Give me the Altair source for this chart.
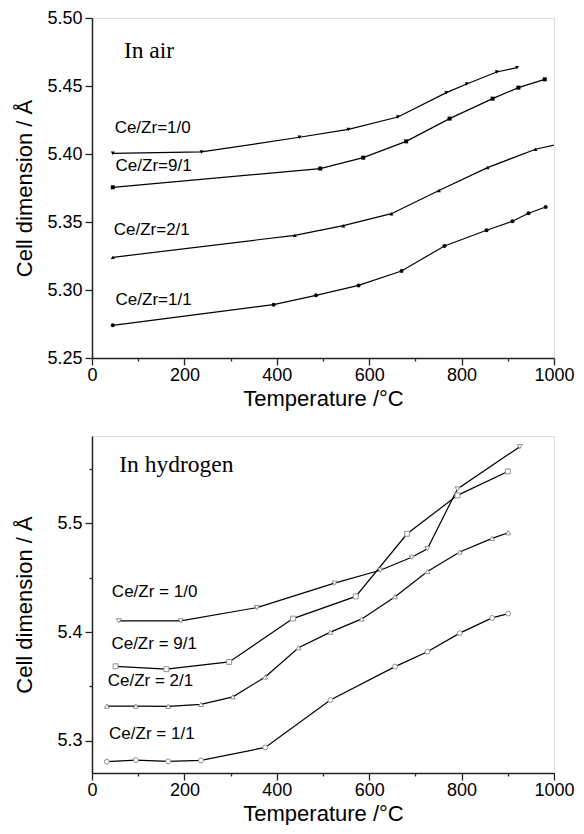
import altair as alt
import pandas as pd

# ---------------- In air (top panel) ----------------
air_names = ["Ce/Zr=1/0", "Ce/Zr=9/1", "Ce/Zr=2/1", "Ce/Zr=1/1"]
air_t_10 = [45, 237, 449, 555, 662, 767, 811, 876, 920]
air_v_10 = [5.4005, 5.4015, 5.4123, 5.4181, 5.4272, 5.4451, 5.4515, 5.4603, 5.4635]
air_t_91 = [45, 494, 587, 680, 774, 867, 923, 980]
air_v_91 = [5.3755, 5.3893, 5.3973, 5.4093, 5.4260, 5.4407, 5.4488, 5.4549]
air_t_21 = [45, 439, 544, 648, 751, 856, 960, 1040]
air_v_21 = [5.3240, 5.3402, 5.3473, 5.3561, 5.3731, 5.3900, 5.4035, 5.4097]
air_t_11 = [45, 393, 485, 577, 670, 763, 854, 910, 945, 982]
air_v_11 = [5.2740, 5.2892, 5.2961, 5.3034, 5.3140, 5.3324, 5.3439, 5.3505, 5.3564, 5.3610]

air_label_t = [49, 51, 47, 51]
air_label_v = [5.4191, 5.3910, 5.3444, 5.2930]
air_title = "In air"
air_title_t, air_title_v = 69, 5.4755

# ---------------- In hydrogen (bottom panel) ----------------
h2_names = ["Ce/Zr = 1/0", "Ce/Zr = 9/1", "Ce/Zr = 2/1", "Ce/Zr = 1/1"]
h2_t_10 = [58, 192, 357, 525, 624, 692, 726, 791, 926]
h2_v_10 = [5.4104, 5.4104, 5.4226, 5.4451, 5.4570, 5.4689, 5.4768, 5.5317, 5.5707]
h2_t_91 = [51, 161, 297, 435, 571, 682, 791, 900]
h2_v_91 = [5.3686, 5.3659, 5.3726, 5.4125, 5.4329, 5.4905, 5.5259, 5.5479]
h2_t_21 = [32, 95, 165, 236, 305, 375, 447, 516, 584, 656, 726, 796, 866, 901]
h2_v_21 = [5.3320, 5.3320, 5.3317, 5.3335, 5.3405, 5.3588, 5.3857, 5.4000,
           5.4122, 5.4326, 5.4558, 5.4738, 5.4863, 5.4915]
h2_t_11 = [32, 95, 165, 236, 375, 516, 656, 726, 796, 866, 901]
h2_v_11 = [5.2808, 5.2823, 5.2811, 5.2820, 5.2939, 5.3375, 5.3683, 5.3820,
           5.3991, 5.4131, 5.4171]

h2_label_t = [43, 42, 34, 37]
h2_label_v = [5.4366, 5.3893, 5.3552, 5.3061]
h2_title = "In hydrogen"
h2_title_t, h2_title_v = 59, 5.554

shapes = ["triangle-down", "square", "triangle-up", "circle"]

x_ticks = [0, 100, 200, 300, 400, 500, 600, 700, 800, 900, 1000]
air_y_ticks = [5.25, 5.275, 5.30, 5.325, 5.35, 5.375, 5.40, 5.425, 5.45, 5.475, 5.50]
h2_y_ticks = [5.30, 5.35, 5.40, 5.45, 5.50, 5.55]


def build(names, ts, vs):
    rows = []
    for n, t, v in zip(names, ts, vs):
        for a, b in zip(t, v):
            rows.append({"series": n, "T": a, "V": b})
    return pd.DataFrame(rows)


air_df = build(air_names, [air_t_10, air_t_91, air_t_21, air_t_11],
               [air_v_10, air_v_91, air_v_21, air_v_11])
h2_df = build(h2_names, [h2_t_10, h2_t_91, h2_t_21, h2_t_11],
              [h2_v_10, h2_v_91, h2_v_21, h2_v_11])

air_lab = pd.DataFrame({"txt": air_names, "T": air_label_t, "V": air_label_v})
h2_lab = pd.DataFrame({"txt": h2_names, "T": h2_label_t, "V": h2_label_v})
air_tt = pd.DataFrame({"txt": [air_title], "T": [air_title_t], "V": [air_title_v]})
h2_tt = pd.DataFrame({"txt": [h2_title], "T": [h2_title_t], "V": [h2_title_v]})

W = 462
SANS = "Liberation Sans"
SERIF = "Liberation Serif"
AX = "#222222"


def x_axis():
    return alt.Axis(
        values=x_ticks, title="Temperature /°C", grid=False, format="d",
        labelExpr="datum.value % 200 == 0 ? datum.label : ''",
        tickSize={"condition": {"test": "datum.value % 200 == 0", "value": 7}, "value": 3},
        labelFontSize=18, titleFontSize=22, labelFont=SANS, titleFont=SANS,
        titleFontWeight="normal", titlePadding=4, labelPadding=1,
        labelFlush=False, labelOverlap=False, domainWidth=1.5, tickWidth=1.3,
        domainColor=AX, tickColor=AX, labelColor="black", titleColor="black",
    )


def y_axis(vals, major_mod, fmt):
    test = f"round(datum.value*1000) % {major_mod} == 0"
    return alt.Axis(
        values=vals, title="Cell dimension / Å", grid=False, format=fmt,
        labelExpr=f"{test} ? datum.label : ''",
        tickSize={"condition": {"test": test, "value": 7}, "value": 3},
        labelFontSize=18, titleFontSize=22, labelFont=SANS, titleFont=SANS,
        titleFontWeight="normal", titlePadding=9, labelPadding=3,
        minExtent=47, maxExtent=47, labelFlush=False, labelOverlap=False,
        domainWidth=1.5, tickWidth=1.3,
        domainColor=AX, tickColor=AX, labelColor="black", titleColor="black",
    )


def panel(df, lab, tt, names, ydom, yvals, major_mod, fmt, height, filled):
    xs = alt.Scale(domain=[0, 1000], nice=False)
    ys = alt.Scale(domain=ydom, nice=False, zero=False)
    base = alt.Chart(df)
    line = base.mark_line(color="black", strokeWidth=1.2, clip=True).encode(
        x=alt.X("T:Q", scale=xs, axis=x_axis()),
        y=alt.Y("V:Q", scale=ys, axis=y_axis(yvals, major_mod, fmt)),
        detail="series:N",
        order="T:Q",
    )
    if filled:
        pt = base.mark_point(filled=True, color="black", size=16, opacity=1, clip=True)
    else:
        pt = base.mark_point(filled=False, color="#909090", fill="white", fillOpacity=1,
                             strokeWidth=1, size=24, opacity=1, clip=True)
    points = pt.encode(
        x=alt.X("T:Q", scale=xs),
        y=alt.Y("V:Q", scale=ys),
        shape=alt.Shape("series:N", scale=alt.Scale(domain=names, range=shapes), legend=None),
    )
    labels = alt.Chart(lab).mark_text(align="left", baseline="middle", font=SANS,
                                      fontSize=17, color="black").encode(
        x=alt.X("T:Q", scale=xs), y=alt.Y("V:Q", scale=ys), text="txt:N")
    title = alt.Chart(tt).mark_text(align="left", baseline="middle", font=SERIF,
                                    fontSize=23.5, color="black").encode(
        x=alt.X("T:Q", scale=xs), y=alt.Y("V:Q", scale=ys), text="txt:N")
    return alt.layer(line, points, labels, title).properties(width=W, height=height)


top = panel(air_df, air_lab, air_tt, air_names, [5.25, 5.50], air_y_ticks, 50, ".2f", 340, True)
bottom = panel(h2_df, h2_lab, h2_tt, h2_names, [5.2704, 5.5805], h2_y_ticks, 100, ".1f", 337, False)

chart = alt.vconcat(top, bottom, spacing=25).properties(
    padding={"left": 4, "top": 0, "right": 0, "bottom": 0}
).configure_view(
    stroke=AX, strokeWidth=1.5
).configure(background="white")

chart.save("out.html", embed_options={"renderer": "svg", "actions": False})
